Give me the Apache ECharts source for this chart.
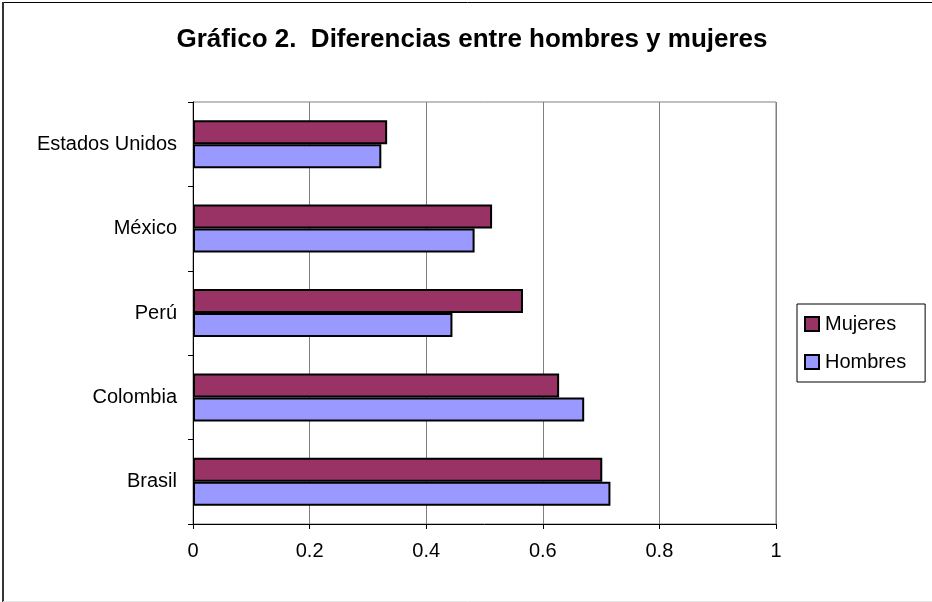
<!DOCTYPE html>
<html>
<head>
<meta charset="utf-8">
<script src="https://cdn.jsdelivr.net/npm/echarts@6/dist/echarts.min.js"></script>
<style>html,body{margin:0;padding:0;background:#fff}#c{width:932px;height:602px}</style>
</head>
<body>
<div id="c"></div>
<script>
const categories = ['Brasil', 'Colombia', 'Perú', 'México', 'Estados Unidos'];
const mujeres = [0.702, 0.628, 0.566, 0.513, 0.333];
const hombres = [0.716, 0.671, 0.445, 0.483, 0.323];
const xTicks = [0, 0.2, 0.4, 0.6, 0.8, 1];

const FONT = '"Liberation Sans", Arial, sans-serif';
const chart = echarts.init(document.getElementById('c'), null, {renderer: 'canvas'});
chart.setOption({
  backgroundColor: '#fff',
  animation: false,
  title: {
    text: 'Gráfico 2.  Diferencias entre hombres y mujeres',
    left: 467, top: 22, textAlign: 'center',
    textStyle: {fontFamily: FONT, fontWeight: 'bold', fontSize: 26, color: '#000'}
  },
  graphic: [
    {type: 'line', silent: true, shape: {x1: 3, y1: 2.5, x2: 932, y2: 2.5}, style: {stroke: '#000', lineWidth: 1}},
    {type: 'line', silent: true, shape: {x1: 3, y1: 2, x2: 3, y2: 602}, style: {stroke: '#333', lineWidth: 2}},
    {type: 'line', silent: true, shape: {x1: 3, y1: 601.5, x2: 932, y2: 601.5}, style: {stroke: '#e6e6e6', lineWidth: 1}}
  ],
  legend: {
    orient: 'vertical', left: 797, top: 304,
    data: ['Mujeres', 'Hombres'],
    icon: 'rect', itemWidth: 14, itemHeight: 14, itemGap: 18,
    backgroundColor: '#fff', borderColor: '#000', borderWidth: 1,
    padding: [10, 19, 10, 7],
    textStyle: {fontFamily: FONT, fontSize: 20, color: '#000', padding: [0, 0, 0, 1]}
  },
  grid: {left: 193, right: 156, top: 102, bottom: 78, show: true, borderColor: '#808080', borderWidth: 1, containLabel: false},
  xAxis: {
    type: 'value', min: 0, max: 1, interval: 0.2,
    axisLine: {show: true, lineStyle: {color: '#000', width: 1}},
    axisTick: {show: true, length: 5, lineStyle: {color: '#000'}},
    splitLine: {show: true, lineStyle: {color: '#808080', width: 1}},
    axisLabel: {fontFamily: FONT, fontSize: 20, color: '#000', margin: 17,
      formatter: v => { const t = xTicks.find(x => Math.abs(x - v) < 1e-9); return t === undefined ? '' : String(t); }}
  },
  yAxis: {
    type: 'category', data: categories,
    axisLine: {show: true, lineStyle: {color: '#000', width: 1}},
    axisTick: {show: true, length: 5, lineStyle: {color: '#000'}},
    axisLabel: {fontFamily: FONT, fontSize: 20, color: '#000', margin: 16}
  },
  series: [
    {name: 'Mujeres', type: 'bar', data: mujeres, barWidth: 24, barGap: '0%', barCategoryGap: '43%',
     itemStyle: {color: '#993366', borderColor: '#000', borderWidth: 2}},
    {name: 'Hombres', type: 'bar', data: hombres, barWidth: 24, barGap: '0%',
     itemStyle: {color: '#9999FF', borderColor: '#000', borderWidth: 2}}
  ]
});
</script>
</body>
</html>
